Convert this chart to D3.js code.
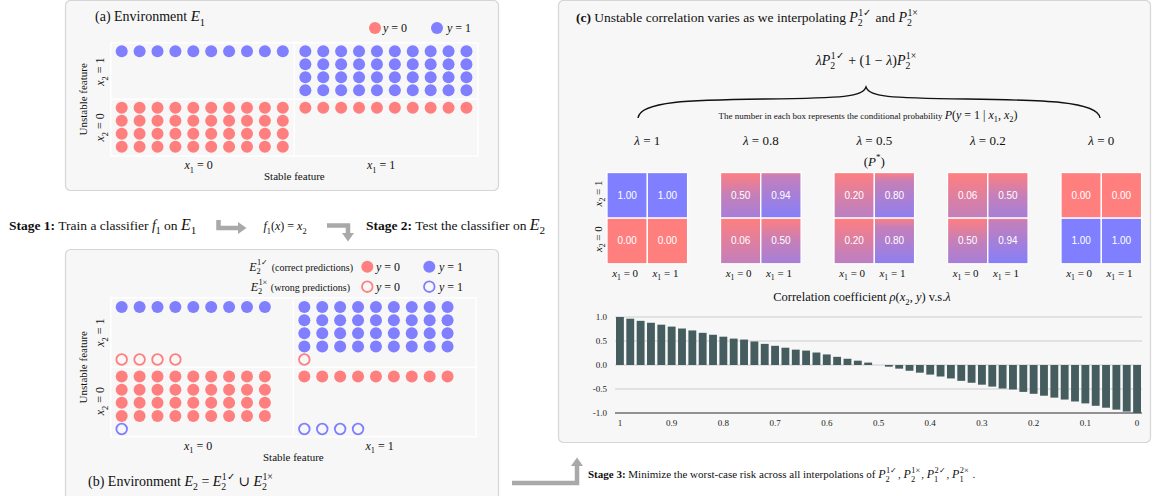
<!DOCTYPE html>
<html>
<head>
<meta charset="utf-8">
<script src="https://cdn.jsdelivr.net/npm/d3@7"></script>
<style>
body { margin: 0; background: #fff; }
svg { display: block; font-family: "Liberation Serif", "DejaVu Serif", serif; }
</style>
</head>
<body>
<div id="chart"></div>
<script>
var w = 1156, h = 496;
var RED = "#ff7f7f", BLUE = "#7f7fff", GREY = "#a9a9a9";

// ---- data ----
// dots per cell of environment E1 and E2 (x1, x2, label y, count)
var envOne = [
  {x1: 0, x2: 1, y: 1, n: 10},
  {x1: 1, x2: 1, y: 1, n: 40},
  {x1: 0, x2: 0, y: 0, n: 40},
  {x1: 1, x2: 0, y: 0, n: 10}
];
var envTwoCorrect = [
  {x1: 0, x2: 1, y: 1, n: 9},
  {x1: 1, x2: 1, y: 1, n: 36},
  {x1: 0, x2: 0, y: 0, n: 36},
  {x1: 1, x2: 0, y: 0, n: 9}
];
var envTwoWrong = [
  {x1: 0, x2: 1, y: 0, n: 4},
  {x1: 1, x2: 1, y: 0, n: 1},
  {x1: 0, x2: 0, y: 1, n: 1},
  {x1: 1, x2: 0, y: 1, n: 4}
];

// conditional probabilities P(y=1|x1,x2) per lambda: [x1=0 x2=1, x1=1 x2=1, x1=0 x2=0, x1=1 x2=0]
var boxLambdas = ["1", "0.8", "0.5", "0.2", "0"];
var boxProbs = [
  [1.00, 1.00, 0.00, 0.00],
  [0.50, 0.94, 0.06, 0.50],
  [0.20, 0.80, 0.20, 0.80],
  [0.06, 0.50, 0.50, 0.94],
  [0.00, 0.00, 1.00, 1.00]
];

// correlation coefficient rho(x2, y) vs lambda
var corrLambdas = [1, 0.98, 0.96, 0.94, 0.92, 0.9, 0.88, 0.86, 0.84, 0.82, 0.8, 0.78, 0.76, 0.74, 0.72, 0.7,
  0.68, 0.66, 0.64, 0.62, 0.6, 0.58, 0.56, 0.54, 0.52, 0.5, 0.48, 0.46, 0.44, 0.42, 0.4, 0.38, 0.36, 0.34,
  0.32, 0.3, 0.28, 0.26, 0.24, 0.22, 0.2, 0.18, 0.16, 0.14, 0.12, 0.1, 0.08, 0.06, 0.04, 0.02, 0];
var corrValues = [1.00, 0.965, 0.92, 0.88, 0.84, 0.80, 0.76, 0.72, 0.67, 0.63, 0.59, 0.55, 0.53, 0.49, 0.44,
  0.40, 0.36, 0.32, 0.30, 0.26, 0.22, 0.17, 0.13, 0.09, 0.05, 0.0, -0.035, -0.076, -0.12, -0.16, -0.20,
  -0.24, -0.28, -0.33, -0.37, -0.41, -0.45, -0.49, -0.51, -0.56, -0.60, -0.64, -0.68, -0.72, -0.76, -0.80,
  -0.85, -0.89, -0.93, -0.97, -1.00];
var corrTicks = [1, 0.9, 0.8, 0.7, 0.6, 0.5, 0.4, 0.3, 0.2, 0.1, 0];
var corrYTicks = [1, 0.5, 0, -0.5, -1];

var svg = d3.select("#chart").append("svg").attr("width", w).attr("height", h);

// rich text with italic / sub / sup pieces: [text, flags, dx, size]
function rich(parent, x, y, size, parts, anchor) {
  var t = parent.append("text").attr("x", x).attr("y", y).attr("font-size", size)
    .attr("text-anchor", anchor || "start").attr("fill", "#111");
  var base = 0;
  parts.forEach(function(p) {
    var k = p[1] || "", fs = p[3] || size, off = 0;
    var sp = t.append("tspan").text(p[0]);
    if (k.indexOf("_") >= 0) { off = fs * 0.3; fs = fs * 0.7; }
    if (k.indexOf("^") >= 0) { off = -fs * 0.42; fs = fs * 0.7; }
    sp.attr("font-size", fs).attr("dy", off - base);
    base = off;
    if (k.indexOf("i") >= 0) sp.attr("font-style", "italic");
    if (k.indexOf("b") >= 0) sp.attr("font-weight", "bold");
    if (p[2]) sp.attr("dx", p[2]);
  });
  return t;
}
function xEq(idx, v) { return [["x", "i"], [idx, "_"], [" = " + v]]; }
function pSym(sub, sup, size) {
  return [["P", "i", 0, size], [sub, "_", 0, size], [sup, "^", -size * 0.32, size]];
}

// ---- panels ----
function panel(x, y, pw, ph) {
  svg.append("rect").attr("x", x).attr("y", y).attr("width", pw).attr("height", ph)
    .attr("rx", 5).attr("fill", "#f7f7f7").attr("stroke", "#d6d6d6").attr("stroke-width", 1.2);
}
panel(65.5, 0.5, 433, 190);
panel(65.5, 249.5, 433, 270);
panel(558.5, 0.5, 592, 442);

// ---- environment scatter ----
function drawEnv(opt) {
  var g = svg.append("g");
  var xb = d3.scaleBand().domain([0, 1]).range([opt.left, opt.right]);
  var yb = d3.scaleBand().domain([1, 0]).range([opt.top, opt.bottom]);
  var colX = d3.scaleLinear().domain([0, 1]).range([11, 28.9]);
  var rowY = d3.scaleLinear().domain([0, 1]).range([opt.row0, opt.row0 + opt.rowStep]);

  g.append("rect").attr("x", opt.left).attr("y", opt.top).attr("width", opt.right - opt.left)
    .attr("height", opt.bottom - opt.top).attr("fill", "none").attr("stroke", "#fff").attr("stroke-width", 1.5);
  g.append("line").attr("x1", xb(1)).attr("x2", xb(1)).attr("y1", opt.top).attr("y2", opt.bottom)
    .attr("stroke", "#fff").attr("stroke-width", 1.5);
  g.append("line").attr("x1", opt.left).attr("x2", opt.right).attr("y1", yb(0)).attr("y2", yb(0))
    .attr("stroke", "#fff").attr("stroke-width", 1.5);

  function pts(cells, rowStart, hollow) {
    var out = [];
    cells.forEach(function(c) {
      d3.range(c.n).forEach(function(k) {
        out.push({x: xb(c.x1) + colX(k % opt.perRow), y: yb(c.x2) + rowY(rowStart + Math.floor(k / opt.perRow)), lab: c.y, hollow: hollow});
      });
    });
    return out;
  }
  var all = pts(opt.correct, 0, false);
  if (opt.wrong) all = all.concat(pts(opt.wrong, 4, true));
  g.selectAll("circle.dot").data(all).enter().append("circle").attr("class", "dot")
    .attr("cx", function(d) { return d.x; }).attr("cy", function(d) { return d.y; })
    .attr("r", function(d) { return d.hollow ? 5.3 : 6; })
    .attr("fill", function(d) { return d.hollow ? "none" : (d.lab ? BLUE : RED); })
    .attr("stroke", function(d) { return d.hollow ? (d.lab ? BLUE : RED) : "none"; })
    .attr("stroke-width", 1.8);

  var cx = function(v) { return xb(v) + xb.bandwidth() / 2 - 8; };
  rich(g, cx(0) + 4, opt.bottom + 13, 12, xEq("1", 0), "middle");
  rich(g, cx(1) + 3, opt.bottom + 13, 12, xEq("1", 1), "middle");
  rich(g, xb(1), opt.bottom + 24, 11, [["Stable feature"]], "middle");
  rich(g, 0, 0, 11, [["Unstable feature"]], "middle")
    .attr("transform", "translate(87," + (opt.top + opt.bottom) / 2 + ") rotate(-90)");
  rich(g, 0, 0, 12, xEq("2", 1), "middle")
    .attr("transform", "translate(104," + (yb(1) + opt.x2Off1) + ") rotate(-90)");
  rich(g, 0, 0, 12, xEq("2", 0), "middle")
    .attr("transform", "translate(104," + (yb(0) + opt.x2Off0) + ") rotate(-90)");
  return g;
}

drawEnv({left: 110.7, right: 478, top: 42.7, bottom: 156, perRow: 10, row0: 8.5, rowStep: 13,
  correct: envOne, x2Off1: 29, x2Off0: 28});
drawEnv({left: 110.7, right: 476, top: 297.7, bottom: 436.7, perRow: 9, row0: 9.4, rowStep: 13.1,
  correct: envTwoCorrect, wrong: envTwoWrong, x2Off1: 35, x2Off0: 34});

// panel (a) title and legend
rich(svg, 95, 21, 14, [["(a) Environment "], ["E", "i", 0, 15], ["1", "_", 0, 15]]);
function legendDot(x, y, col, hollow) {
  svg.append("circle").attr("cx", x).attr("cy", y).attr("r", hollow ? 5.3 : 6)
    .attr("fill", hollow ? "none" : col).attr("stroke", hollow ? col : "none").attr("stroke-width", 1.8);
}
legendDot(375, 28, RED); rich(svg, 383, 32, 12, [["y", "i"], [" = 0"]]);
legendDot(437, 28, BLUE); rich(svg, 447, 32, 12, [["y", "i"], [" = 1"]]);

// panel (b) legend and title
rich(svg, 353, 270.5, 10, [["E", "i", 0, 12], ["2", "_", 0, 12], ["1\u2713", "^", -3.8, 12], [" (correct predictions)", "", 1]], "end");
rich(svg, 350, 290.5, 10, [["E", "i", 0, 12], ["2", "_", 0, 12], ["1\u00d7", "^", -3.8, 12], [" (wrong predictions)", "", 1]], "end");
legendDot(367.3, 266.7, RED); rich(svg, 376, 270.5, 12, [["y", "i"], [" = 0"]]);
legendDot(429.3, 266.7, BLUE); rich(svg, 439, 270.5, 12, [["y", "i"], [" = 1"]]);
legendDot(367.3, 286.7, RED, true); rich(svg, 376, 290.5, 12, [["y", "i"], [" = 0"]]);
legendDot(429.3, 286.7, BLUE, true); rich(svg, 439, 290.5, 12, [["y", "i"], [" = 1"]]);
rich(svg, 88, 486, 14, [["(b) Environment "], ["E", "i", 0, 14], ["2", "_", 0, 14], [" = "], ["E", "i", 0, 14], ["2", "_", 0, 14],
  ["1\u2713", "^", -4.5, 14], [" \u222a "], ["E", "i", 0, 14], ["2", "_", 0, 14], ["1\u00d7", "^", -4.5, 14]]);

// ---- stage texts and arrows ----
rich(svg, 9, 229.5, 13.5, [["Stage 1:", "b"], [" Train a classifier "], ["f", "i", 0, 14], ["1", "_", 0, 14], [" on "], ["E", "i", 0, 16], ["1", "_", 0, 16]]);
rich(svg, 285, 230, 12, [["f", "i"], ["1", "_"], ["(", ""], ["x", "i"], [") = "], ["x", "i"], ["2", "_"]], "middle");
rich(svg, 366, 229.5, 13.5, [["Stage 2:", "b"], [" Test the classifier on "], ["E", "i", 0, 16], ["2", "_", 0, 16]]);
rich(svg, 588, 478, 11, [["Stage 3:", "b"], [" Minimize the worst-case risk across all interpolations of "]]
  .concat(pSym("2", "1\u2713", 12)).concat([[", ", "", 1]]).concat(pSym("2", "1\u00d7", 12))
  .concat([[", ", "", 1]]).concat(pSym("1", "2\u2713", 12)).concat([[", ", "", 1]]).concat(pSym("1", "2\u00d7", 12))
  .concat([[" .", "", 1]]));

function arrow(path, head) {
  svg.append("path").attr("d", path).attr("fill", "none").attr("stroke", GREY).attr("stroke-width", 4.5);
  svg.append("path").attr("d", head).attr("fill", GREY);
}
arrow("M218.5,220V228H239", "M238,222L246.5,228L238,234Z");
arrow("M327,225.5H348V234", "M342,233H354L348,241.5Z");
arrow("M512,483H577V465", "M571,466H583L577,457.5Z");

// ---- panel (c) ----
var gc = svg.append("g");
rich(gc, 576, 22, 13.5, [["(c)", "b"], [" Unstable correlation varies as we interpolating "]]
  .concat(pSym("2", "1\u2713", 14)).concat([[" and ", "", 1]]).concat(pSym("2", "1\u00d7", 14)));
rich(gc, 866, 65, 14, [["\u03bb", "i"]].concat(pSym("2", "1\u2713", 14))
  .concat([[" + (1 \u2212 ", "", 1], ["\u03bb", "i"], [")"]]).concat(pSym("2", "1\u00d7", 14)), "middle");
gc.append("path")
  .attr("d", "M638,118C640,101 690,100 765,99C845,98 862,97 866,87C870,97 887,98 967,99C1042,100 1098,101 1100,118")
  .attr("fill", "none").attr("stroke", "#111").attr("stroke-width", 1.4);
rich(gc, 868, 118.5, 9, [["The number in each box represents the conditional probability "],
  ["P", "i", 0, 12], ["(", "", 0, 12], ["y", "i", 0, 12], [" = 1 | ", "", 0, 12], ["x", "i", 0, 12], ["1", "_", 0, 12],
  [", ", "", 0, 12], ["x", "i", 0, 12], ["2", "_", 0, 12], [")", "", 0, 12]], "middle");

// probability boxes
var boxX = d3.scaleLinear().domain([0, 4]).range([607, 1061]);
var cellX = d3.scaleBand().domain([0, 1]).range([0, 80.6]);
var cellY = d3.scaleBand().domain([1, 0]).range([172.5, 263.8]);
var mix = d3.interpolateRgb(RED, BLUE);
var defs = svg.append("defs");
var cellOrder = [[0, 1], [1, 1], [0, 0], [1, 0]];

boxLambdas.forEach(function(lam, i) {
  var bx = boxX(i);
  var labCx = bx + 40.3;
  rich(gc, labCx, 145, 13, [["\u03bb", "i"], [" = " + lam]], "middle");
  if (lam === "0.5") rich(gc, labCx, 165.5, 13, [["("], ["P", "i"], ["*", "^"], [")"]], "middle");
  boxProbs[i].forEach(function(p, j) {
    var x1 = cellOrder[j][0], x2 = cellOrder[j][1];
    var fill;
    if (p <= 0) fill = RED;
    else if (p >= 1) fill = BLUE;
    else {
      var id = "grad" + i + "_" + j;
      var gr = defs.append("linearGradient").attr("id", id).attr("x1", 0).attr("y1", 0).attr("x2", 0).attr("y2", 1);
      gr.append("stop").attr("offset", 0).attr("stop-color", RED);
      gr.append("stop").attr("offset", Math.max(0.04, 1 - p)).attr("stop-color", mix(0.45));
      gr.append("stop").attr("offset", 1).attr("stop-color", mix(0.4 + 0.6 * p));
      fill = "url(#" + id + ")";
    }
    gc.append("rect").attr("x", bx + cellX(x1)).attr("y", cellY(x2))
      .attr("width", cellX.bandwidth()).attr("height", cellY.bandwidth())
      .attr("fill", fill).attr("stroke", "#fff").attr("stroke-width", 1.3);
    gc.append("text").attr("x", bx + cellX(x1) + cellX.bandwidth() / 2).attr("y", cellY(x2) + cellY.bandwidth() / 2 + 3.5)
      .attr("text-anchor", "middle").attr("font-family", "'Liberation Sans', Arial, sans-serif")
      .attr("font-size", 10).attr("fill", "#fff").text(p.toFixed(2));
  });
  [0, 1].forEach(function(v) {
    rich(gc, bx + cellX(v) + cellX.bandwidth() / 2 - 2, 276.5, 11, xEq("1", v), "middle");
  });
});
rich(gc, 0, 0, 11, xEq("2", 1), "middle").attr("transform", "translate(602," + (cellY(1) + 21) + ") rotate(-90)");
rich(gc, 0, 0, 11, xEq("2", 0), "middle").attr("transform", "translate(602," + (cellY(0) + 21) + ") rotate(-90)");

// correlation bar chart
rich(gc, 862, 301, 12.5, [["Correlation coefficient "], ["\u03c1", "i"], ["("], ["x", "i"], ["2", "_"], [", "], ["y", "i"], [") v.s."], ["\u03bb", "i"]], "middle");
var xBar = d3.scaleBand().domain(corrLambdas).range([616, 1141]).paddingInner(0.24);
var yBar = d3.scaleLinear().domain([-1, 1]).range([413, 317]);

gc.selectAll("line.grid").data(corrYTicks).enter().append("line").attr("class", "grid")
  .attr("x1", 615).attr("x2", 1142).attr("y1", function(d) { return yBar(d); }).attr("y2", function(d) { return yBar(d); })
  .attr("stroke", function(d) { return d === -1 ? "#6f6f6f" : "#cdcdcd"; })
  .attr("stroke-width", function(d) { return d === -1 ? 1.6 : 1; });
gc.selectAll("text.ytick").data(corrYTicks).enter().append("text").attr("class", "ytick")
  .attr("x", 607).attr("y", function(d) { return yBar(d) + 3; }).attr("text-anchor", "end")
  .attr("font-size", 9).attr("fill", "#222").text(function(d) { return d.toFixed(1); });

gc.selectAll("rect.bar").data(corrValues).enter().append("rect").attr("class", "bar")
  .attr("x", function(d, i) { return xBar(corrLambdas[i]); })
  .attr("width", xBar.bandwidth())
  .attr("y", function(d) { return yBar(Math.max(0, d)); })
  .attr("height", function(d) { return Math.abs(yBar(d) - yBar(0)); })
  .attr("fill", "#465d60");

gc.selectAll("text.xtick").data(corrTicks).enter().append("text").attr("class", "xtick")
  .attr("x", function(d) { return xBar(d) + xBar.bandwidth() / 2; }).attr("y", 426)
  .attr("text-anchor", "middle").attr("font-size", 9).attr("fill", "#222")
  .text(function(d) { return String(d); });
</script>
</body>
</html>
